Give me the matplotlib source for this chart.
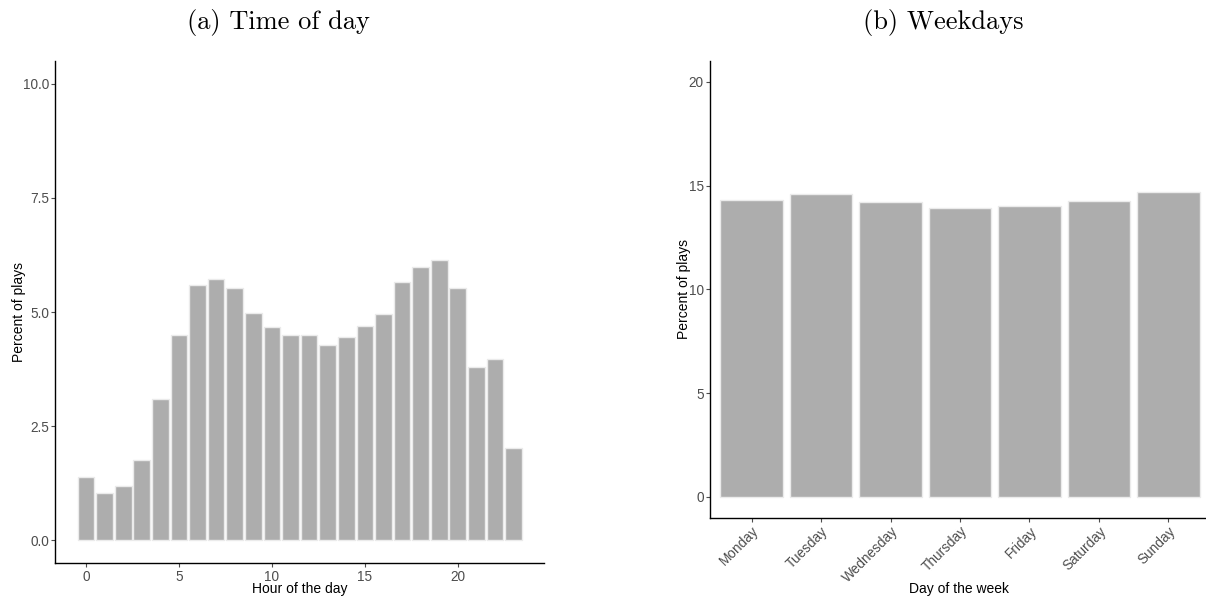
import numpy as np
import matplotlib.pyplot as plt

# hour of day shares (percent of plays)
hours = np.arange(24)
hour_pct = [1.40, 1.04, 1.19, 1.76, 3.10, 4.50, 5.60, 5.72, 5.52, 4.99, 4.68, 4.50,
            4.49, 4.28, 4.45, 4.70, 4.95, 5.65, 5.98, 6.15, 5.52, 3.79, 3.97, 2.02]

# weekday shares
days = ["Monday", "Tuesday", "Wednesday", "Thursday", "Friday", "Saturday", "Sunday"]
day_pct = [14.32, 14.57, 14.22, 13.94, 14.01, 14.25, 14.70]

plt.rcParams['font.family'] = ['Liberation Sans', 'DejaVu Sans']

bar_col = "#ADADAD"
edge_col = "#EBEBEB"
tick_col = "#4D4D4D"

fig = plt.figure(figsize=(12.06, 6.01), dpi=100)
W, H = 1206, 601

def style(ax):
    for s in ["top", "right"]:
        ax.spines[s].set_visible(False)
    for s in ["left", "bottom"]:
        ax.spines[s].set_linewidth(1.0)
        ax.spines[s].set_color("black")
    ax.tick_params(axis="both", colors=tick_col, labelcolor=tick_col, labelsize=9.8,
                   length=3, width=0.8, pad=1.5)

# (a) time of day
ax1 = fig.add_axes([55.3 / W, 1 - 563.3 / H, (544.3 - 55.3) / W, (563.3 - 61) / H])
ax1.bar(hours, hour_pct, width=0.9, color=bar_col, edgecolor=edge_col, linewidth=1)
ax1.set_xlim(-1.65, 24.65)
ax1.set_ylim(-0.5, 10.5)
ax1.set_xticks([0, 5, 10, 15, 20])
ax1.set_yticks([0, 2.5, 5, 7.5, 10])
ax1.set_yticklabels(["0.0", "2.5", "5.0", "7.5", "10.0"])
ax1.set_xlabel("Hour of the day", fontsize=10)
ax1.set_ylabel("Percent of plays", fontsize=10)
ax1.xaxis.set_label_coords((300 - 55.3) / 489, (563.3 - 582) / 502.3)
ax1.yaxis.set_label_coords((26 - 55.3) / 489, 0.5)
style(ax1)

# (b) weekdays
ax2 = fig.add_axes([710 / W, 1 - 517.7 / H, (1210 - 710) / W, (517.7 - 61) / H])
ax2.bar(np.arange(len(days)), day_pct, width=0.9, color=bar_col, edgecolor=edge_col, linewidth=1)
ax2.set_xlim(-0.6, 6.6)
ax2.set_ylim(-1, 21)
ax2.set_xticks(np.arange(len(days)))
ax2.set_xticklabels(days, rotation=45, ha="right", rotation_mode="anchor")
ax2.set_yticks([0, 5, 10, 15, 20])
ax2.set_xlabel("Day of the week", fontsize=10)
ax2.set_ylabel("Percent of plays", fontsize=10)
ax2.xaxis.set_label_coords((959 - 710) / 500, (517.7 - 582) / 456.7)
ax2.yaxis.set_label_coords((691 - 710) / 500, 0.5)
style(ax2)

fig.text(278 / W, 1 - 22 / H, "(a) Time of day", fontfamily="cmr10", fontsize=19,
         ha="center", va="center")
fig.text(943 / W, 1 - 22 / H, "(b) Weekdays", fontfamily="cmr10", fontsize=19,
         ha="center", va="center")

fig.savefig("out.png", dpi=100)
